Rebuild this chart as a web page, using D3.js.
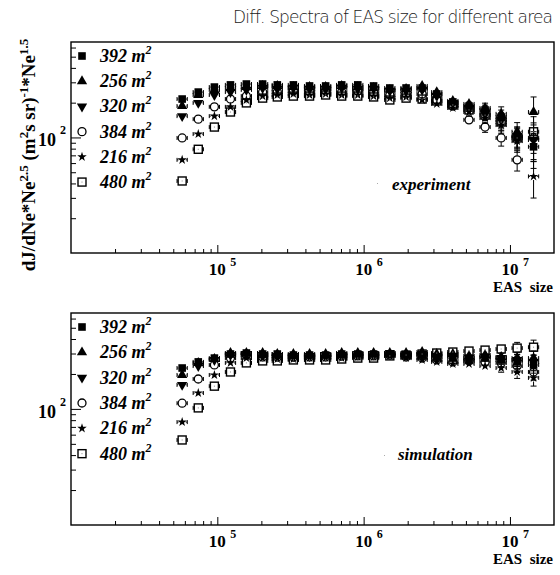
<!DOCTYPE html>
<html><head><meta charset="utf-8">
<script src="https://cdn.jsdelivr.net/npm/d3@7"></script>
<style>body{margin:0;background:#fff} svg{display:block}</style>
</head><body><svg id="c" width="560" height="575"></svg>
<script>
// ---------------- data ----------------
const ne = [5.75e4, 7.41e4, 9.55e4, 1.23e5, 1.58e5, 2.04e5, 2.57e5, 3.31e5, 4.27e5, 5.50e5, 7.08e5, 9.12e5,
            1.17e6, 1.51e6, 1.95e6, 2.51e6, 3.16e6, 4.07e6, 5.25e6, 6.76e6, 8.71e6, 1.12e7, 1.45e7];
const areaLabels = ["392", "256", "320", "384", "216", "480"];

const exp392 = [215,247,273,285,290,290,285,285,279,279,285,285,279,268,268,268,238,203,187,173,150,101,83];
const exp256 = [187,233,258,268,273,279,279,273,273,273,279,273,268,258,263,279,247,207,195,180,160,112,166];
const exp320 = [153,199,233,247,258,268,263,268,263,263,268,263,263,252,252,258,228,199,180,160,142,103,95];
const exp384 = [99,144,184,215,228,247,247,252,247,252,247,252,243,233,238,238,211,187,142,123,99,64,99];
const exp216 = [64,107,153,184,211,228,233,238,233,238,233,233,228,219,224,211,195,180,166,147,128,93,46];
const exp480 = [42,79,123,166,199,219,224,228,228,233,228,228,224,211,219,215,207,191,173,156,136,99,112];
const expErr = [0.01,0.01,0.01,0.01,0.01,0.01,0.01,0.01,0.01,0.01,0.01,0.01,0.01,0.02,0.025,0.03,0.04,0.05,0.08,0.1,0.15,0.2,0.35];

const sim392 = [225,254,274,297,303,297,297,291,291,291,297,297,297,297,291,291,280,274,264,274,264,254,239];
const sim256 = [196,249,269,303,303,303,297,297,297,297,303,303,303,303,303,309,297,297,286,291,280,274,274];
const sim320 = [161,234,264,291,297,291,286,286,286,291,291,297,297,303,297,297,286,286,274,280,274,264,254];
const sim384 = [112,181,239,274,291,280,280,280,280,280,286,286,286,291,280,274,264,254,259,254,249,234,208];
const sim216 = [77,137,196,249,274,274,269,269,274,274,274,280,280,286,274,264,254,244,244,234,225,208,185];
const sim480 = [54,102,157,208,249,259,259,264,264,264,269,274,274,286,291,297,303,309,315,321,328,334,340];
const simErr = [0.01,0.01,0.01,0.01,0.01,0.01,0.01,0.01,0.01,0.01,0.01,0.01,0.01,0.01,0.015,0.02,0.02,0.03,0.04,0.06,0.08,0.12,0.15];

const xMajorTicks = [1e5, 1e6, 1e7];
const xTickExp = ["5", "6", "7"];
const yMajorTicks = [100];
const yTickExp = ["2"];
const panelNames = ["experiment", "simulation"];
const xTitle = "EAS  size";
const title = "Diff. Spectra of EAS size for different area";

// ---------------- layout ----------------
const svg = d3.select("#c");
const L = 71, R = 554;
const x = d3.scaleLog().domain([1e4, 2e7]).range([L, R]);
const serif = "'Liberation Serif','Times New Roman',serif";
const xHalfDec = 0.035;

svg.append("text").attr("x", 233).attr("y", 23)
  .attr("textLength", 320).attr("lengthAdjust", "spacing")
  .style("font-family", "'DejaVu Sans',sans-serif").style("font-weight", 200)
  .style("font-size", "17px").attr("fill", "#1a1a1a").text(title);

const markerTypes = ["fsq", "tri", "itri", "circ", "star", "osq"];
const half = {fsq:3.8, tri:4.2, itri:4.2, circ:4.2, star:3.6, osq:4.2};

function drawMarker(g, t, cx, cy) {
  if (t === "fsq") g.append("rect").attr("x", cx-3.8).attr("y", cy-3.8).attr("width", 7.6).attr("height", 7.6).attr("fill", "#000");
  else if (t === "osq") {
    g.append("rect").attr("x", cx-4).attr("y", cy-4).attr("width", 8).attr("height", 8)
      .attr("fill", "none").attr("stroke", "#000").attr("stroke-width", 1.4);
    g.append("rect").attr("x", cx-0.5).attr("y", cy-0.5).attr("width", 1).attr("height", 1).attr("fill", "#888");
  }
  else if (t === "circ") g.append("circle").attr("cx", cx).attr("cy", cy).attr("r", 4)
      .attr("fill", "none").attr("stroke", "#000").attr("stroke-width", 1.3);
  else if (t === "tri") g.append("path").attr("d", d3.symbol(d3.symbolTriangle, 46)())
      .attr("transform", `translate(${cx},${cy})`).attr("fill", "#000");
  else if (t === "itri") g.append("path").attr("d", d3.symbol(d3.symbolTriangle, 46)())
      .attr("transform", `translate(${cx},${cy}) rotate(180)`).attr("fill", "#000");
  else if (t === "star") g.append("path").attr("d", d3.symbol(d3.symbolStar, 28)())
      .attr("transform", `translate(${cx},${cy})`).attr("fill", "#000");
}

const panels = [
  {top:42, bottom:253, series:[exp392,exp256,exp320,exp384,exp216,exp480], err:expErr, nx:392, ny:190, dot:[377,183], ytitle:true},
  {top:313, bottom:525, series:[sim392,sim256,sim320,sim384,sim216,sim480], err:simErr, nx:398, ny:460, dot:[384,455], ytitle:false}
];

panels.forEach((p, pi) => {
  const y = d3.scaleLog().domain([10, 670]).range([p.bottom, p.top]);
  const g = svg.append("g");

  const xMinor = [];
  [1e4,1e5,1e6,1e7].forEach(d => { for (let k=2;k<=9;k++) if (k*d < 2e7) xMinor.push(k*d); });
  g.append("g").attr("transform", `translate(0,${p.bottom})`)
    .call(d3.axisBottom(x).tickValues(xMinor).tickSize(-4).tickFormat(""))
    .call(a => { a.select(".domain").remove(); a.selectAll("line").attr("stroke","#000"); });
  g.append("g").attr("transform", `translate(0,${p.bottom})`)
    .call(d3.axisBottom(x).tickValues(xMajorTicks).tickSize(-8).tickFormat(""))
    .call(a => { a.select(".domain").remove(); a.selectAll("line").attr("stroke","#000"); });

  const yMinor = [];
  [10,100].forEach(d => { for (let k=2;k<=9;k++) if (k*d < 670) yMinor.push(k*d); });
  g.append("g").attr("transform", `translate(${L},0)`)
    .call(d3.axisLeft(y).tickValues(yMinor).tickSize(-5).tickFormat(""))
    .call(a => { a.select(".domain").remove(); a.selectAll("line").attr("stroke","#000"); });
  g.append("g").attr("transform", `translate(${L},0)`)
    .call(d3.axisLeft(y).tickValues(yMajorTicks).tickSize(-10).tickFormat(""))
    .call(a => { a.select(".domain").remove(); a.selectAll("line").attr("stroke","#000"); });

  g.append("rect").attr("x", L).attr("y", p.top).attr("width", R-L).attr("height", p.bottom-p.top)
    .attr("fill", "none").attr("stroke", "#000").attr("stroke-width", 1.4);

  xMajorTicks.forEach((v, i) => {
    g.append("text").attr("x", x(v)).attr("y", p.bottom+22).attr("text-anchor","middle")
      .style("font-family", serif).style("font-weight","bold").style("font-size","17px").text("10");
    g.append("text").attr("x", x(v)+13).attr("y", p.bottom+13)
      .style("font-family", serif).style("font-weight","bold").style("font-size","12px").text(xTickExp[i]);
  });
  g.append("text").attr("x", 553).attr("y", p.bottom+39).attr("text-anchor","end")
    .style("font-family", serif).style("font-weight","bold").style("font-size","15px")
    .style("white-space","pre").text(xTitle);

  yMajorTicks.forEach((v, i) => {
    g.append("text").attr("x", 56).attr("y", y(v)+9).attr("text-anchor","end")
      .style("font-family", serif).style("font-weight","bold").style("font-size","18px").text("10");
    g.append("text").attr("x", 60).attr("y", y(v)-3)
      .style("font-family", serif).style("font-weight","bold").style("font-size","12px").text(yTickExp[i]);
  });

  p.series.forEach((vals, si) => {
    const t = markerTypes[si], h = half[t];
    const sg = g.append("g");
    vals.forEach((v, i) => {
      const cx = x(ne[i]), cy = y(v);
      const r = p.err[i];
      const yHi = y(v*(1+r)), yLo = y(v*(1-r));
      const xl = x(ne[i]/Math.pow(10,xHalfDec)), xr = x(ne[i]*Math.pow(10,xHalfDec));
      const ln = (x1,y1,x2,y2) => sg.append("line").attr("x1",x1).attr("y1",y1).attr("x2",x2).attr("y2",y2)
                                    .attr("stroke","#000").attr("stroke-width",1);
      ln(xl, cy, cx-h, cy); ln(cx+h, cy, xr, cy);
      ln(xl, cy-2, xl, cy+2); ln(xr, cy-2, xr, cy+2);
      if (cy - yHi > h) { ln(cx, yHi, cx, cy-h); ln(cx-3, yHi, cx+3, yHi); }
      if (yLo - cy > h) { ln(cx, cy+h, cx, yLo); ln(cx-3, yLo, cx+3, yLo); }
      drawMarker(sg, t, cx, cy);
    });
  });

  const rowH = (p.bottom - p.top) * 0.1195;
  areaLabels.forEach((a, i) => {
    const cy = p.top + 14 + i*rowH;
    drawMarker(g, markerTypes[i], 82, cy);
    const tx = g.append("text").attr("x", 100).attr("y", cy+6)
      .style("font-family", serif).style("font-weight","bold").style("font-style","italic").style("font-size","18px");
    tx.append("tspan").text(a + " m");
    tx.append("tspan").attr("dy", -8).style("font-size","12px").text("2");
  });

  g.append("rect").attr("x", p.dot[0]).attr("y", p.dot[1]).attr("width",1).attr("height",1).attr("fill","#aaa");
  g.append("text").attr("x", p.nx).attr("y", p.ny)
    .style("font-family", serif).style("font-weight","bold").style("font-style","italic").style("font-size","17px")
    .text(panelNames[pi]);

  if (p.ytitle) {
    const t = g.append("text").attr("transform", "translate(35,155) rotate(-90)").attr("text-anchor","middle")
      .style("font-family", serif).style("font-weight","bold").style("font-size","19px");
    const parts = [["dJ/dNe*Ne",0],["2.5",1],[" (m",0],["2",1],["s sr)",0],["-1",1],["*Ne",0],["1.5",1]];
    let sup = false;
    parts.forEach(([s, isSup]) => {
      const ts = t.append("tspan").text(s);
      if (isSup && !sup) { ts.attr("dy", -7).style("font-size","13px"); sup = true; }
      else if (!isSup && sup) { ts.attr("dy", 7); sup = false; }
      else if (isSup) ts.style("font-size","13px");
    });
  }
});
</script></body></html>
